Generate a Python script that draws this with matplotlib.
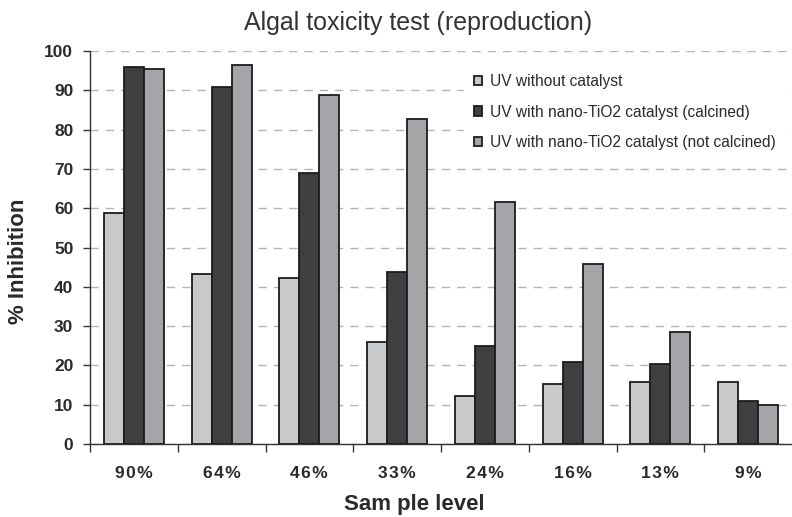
import matplotlib
matplotlib.use("Agg")
import matplotlib.pyplot as plt
import numpy as np

plt.rcParams['font.family'] = ['Liberation Sans', 'DejaVu Sans']

categories = ["90%", "64%", "46%", "33%", "24%", "16%", "13%", "9%"]
uv_no_catalyst = [58.7, 43.3, 42.2, 26.0, 12.2, 15.2, 15.7, 15.7]
uv_calcined = [95.9, 90.8, 68.9, 43.8, 24.9, 20.9, 20.3, 11.0]
uv_not_calcined = [95.4, 96.4, 88.7, 82.7, 61.7, 45.8, 28.5, 10.0]
series_labels = [
    "UV without catalyst",
    "UV with nano-TiO2 catalyst (calcined)",
    "UV with nano-TiO2 catalyst (not calcined)",
]
y_ticks = [0, 10, 20, 30, 40, 50, 60, 70, 80, 90, 100]

colors = ["#c8c9cb", "#3e3f41", "#a4a5a9"]
edge = "#1c1c1c"
txt = "#2a2a2a"


def spaced(s):
    # slight tracking between characters
    return "\u200a".join(s)


fig = plt.figure(figsize=(7.92, 5.17), dpi=100)
ax = fig.add_axes([90 / 792, 73 / 517, 702 / 792, 393 / 517])

x = np.arange(len(categories))
w = 0.228
for i, (vals, col, lab) in enumerate(zip([uv_no_catalyst, uv_calcined, uv_not_calcined], colors, series_labels)):
    ax.bar(x + (i - 1) * w, vals, width=w, color=col, edgecolor=edge, linewidth=1.3,
           label=lab, zorder=3)

ax.set_xlim(-0.5, len(categories) - 0.5)
ax.set_ylim(0, 100)

ax.set_yticks(y_ticks)
ax.set_yticklabels([str(t) for t in y_ticks], fontsize=12.5, fontweight="bold", color=txt)
ax.yaxis.grid(True, linestyle=(0, (6, 5)), color="#b4b4b4", linewidth=1.0, zorder=0)
ax.tick_params(axis="y", direction="out", length=5, width=1, color="#333333", pad=7)

ax.set_xticks(x)
ax.set_xticklabels([spaced(c) for c in categories], fontsize=12.5, fontweight="bold", color=txt)
ax.set_xticks(np.arange(len(categories)) - 0.5, minor=True)
ax.tick_params(axis="x", which="major", length=0, pad=16)
ax.tick_params(axis="x", which="minor", direction="out", length=6, width=1, color="#333333")

for s in ["top", "right"]:
    ax.spines[s].set_visible(False)
for s in ["left", "bottom"]:
    ax.spines[s].set_color("#333333")
    ax.spines[s].set_linewidth(1.0)

leg = ax.legend(loc="upper left", bbox_to_anchor=(0.522, 0.985), frameon=True, fontsize=11.2,
                handlelength=0.55, handleheight=0.55, handletextpad=0.5, labelspacing=1.0,
                borderpad=0.6, labelcolor=txt)
leg.get_frame().set_edgecolor("white")
leg.get_frame().set_facecolor("white")
leg.get_frame().set_alpha(1.0)
leg.set_zorder(5)

fig.text(0.528, 1 - 30 / 517, "Algal toxicity test (reproduction)", ha="center", va="baseline",
         fontsize=18, color="#333333")
fig.text(19 / 792, 1 - 261.5 / 517, "% Inhibition", rotation=90, ha="center", va="center",
         fontsize=16, fontweight="bold", color=txt)
fig.text(414 / 792, 1 - 510 / 517, "Sam ple level", ha="center", va="baseline",
         fontsize=16, fontweight="bold", color=txt)

fig.savefig("out.png", dpi=100)
